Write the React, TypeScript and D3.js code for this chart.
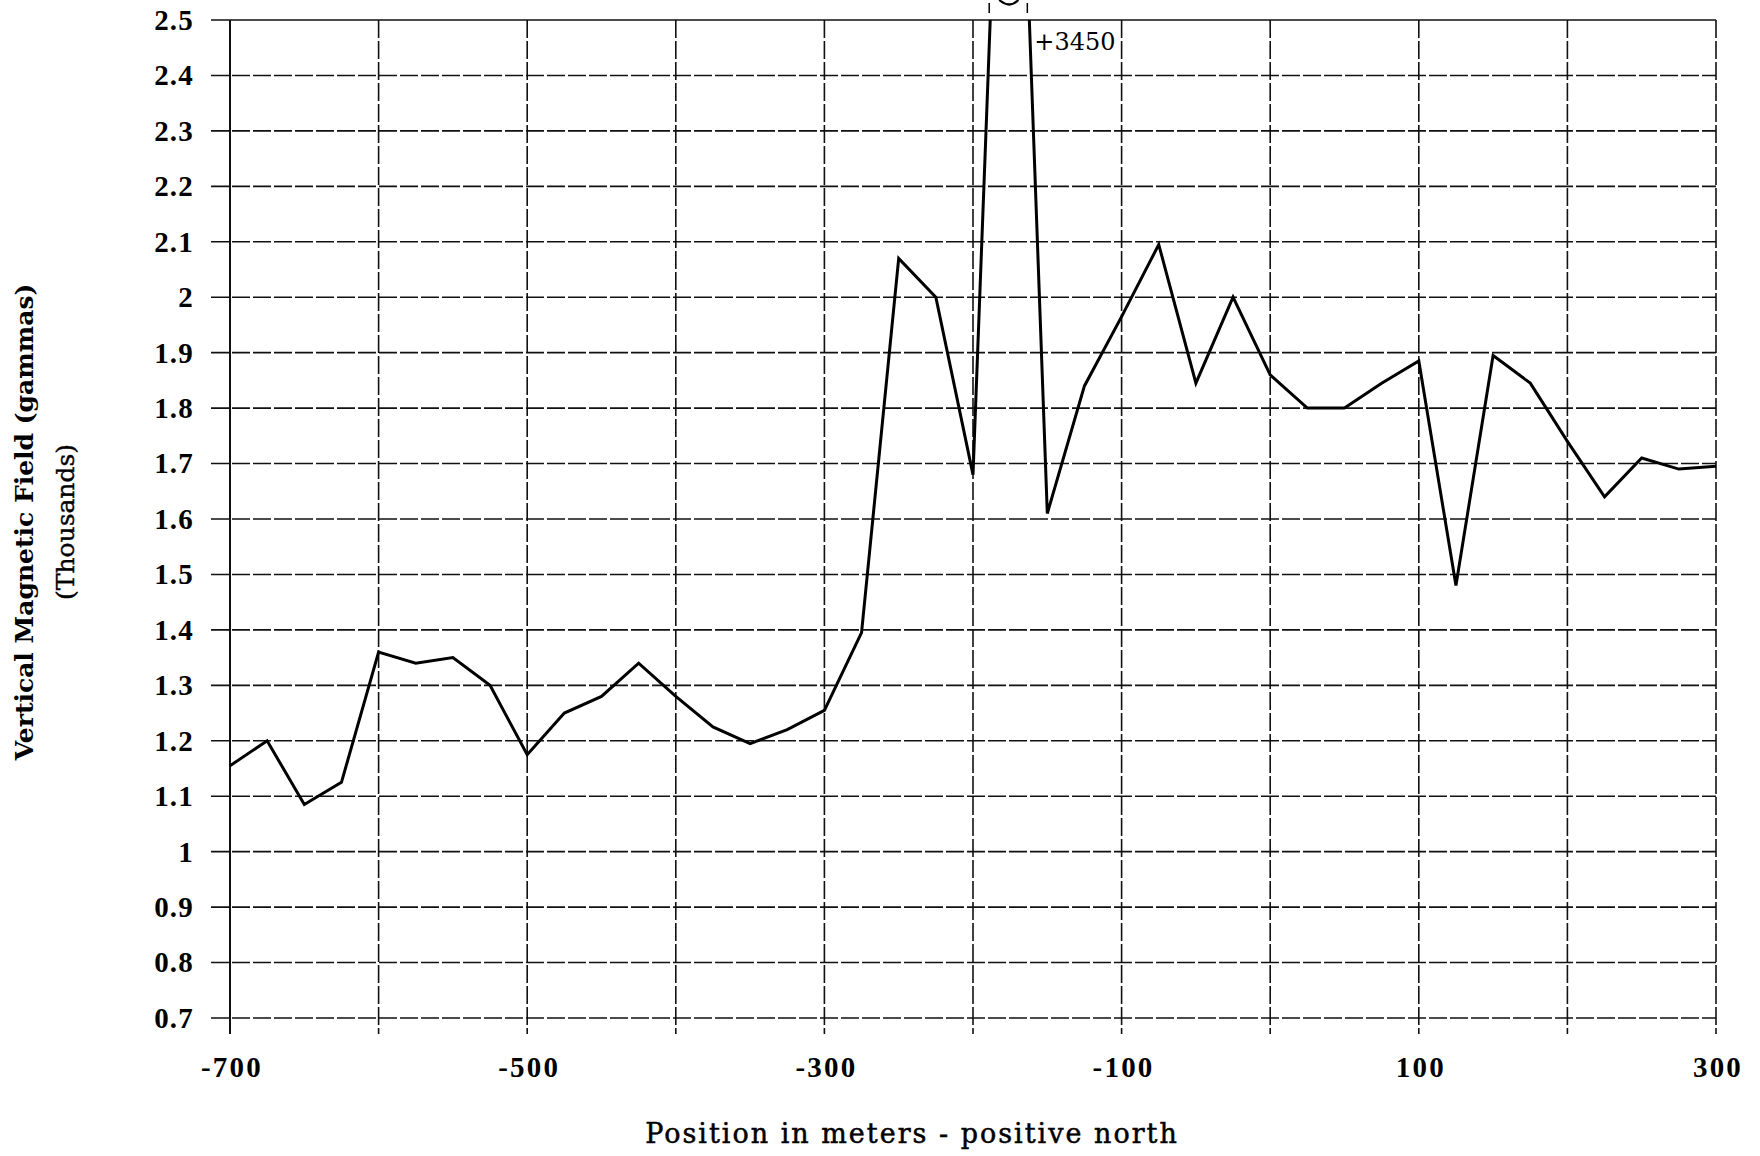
import React, { useRef, useEffect } from "react";
import * as d3 from "d3";

// position along the profile, metres (positive north)
const positions = [
  -700, -675, -650, -625, -600, -575, -550, -525, -500, -475, -450, -425, -400, -375,
  -350, -325, -300, -275, -250, -225, -200, -175, -150, -125, -100, -75, -50, -25,
  0, 25, 50, 75, 100, 125, 150, 175, 200, 225, 250, 275, 300,
];
// vertical magnetic field, thousands of gammas
const fieldValues = [
  1.155, 1.2, 1.085, 1.125, 1.36, 1.34, 1.35, 1.3, 1.175, 1.25, 1.28, 1.34, 1.28, 1.225,
  1.195, 1.22, 1.255, 1.395, 2.07, 2.0, 1.68, 3.45, 1.61, 1.84, 1.965, 2.095, 1.845, 2.0,
  1.86, 1.8, 1.8, 1.845, 1.885, 1.48, 1.895, 1.845, 1.74, 1.64, 1.71, 1.69, 1.695,
];
const yTicks = [0.7, 0.8, 0.9, 1.0, 1.1, 1.2, 1.3, 1.4, 1.5, 1.6, 1.7, 1.8, 1.9, 2.0, 2.1, 2.2, 2.3, 2.4, 2.5];
const xGrid = [-700, -600, -500, -400, -300, -200, -100, 0, 100, 200, 300];
const xTickLabels = [-700, -500, -300, -100, 100, 300];
const peakLabel = "+3450";

function App() {
  const svgRef = useRef(null);
  const width = 1760;
  const height = 1156;
  const marginTop = 20;
  const marginRight = 44;
  const marginBottom = 138;
  const marginLeft = 230;

  useEffect(() => {
    const svg = d3.select(svgRef.current);
    svg.selectAll("*").remove();

    const x = d3.scaleLinear([-700, 300], [marginLeft, width - marginRight]);
    const y = d3.scaleLinear([0.7, 2.5], [height - marginBottom, marginTop]);
    const tickFont = "'Liberation Serif', serif";
    const titleFont = "'DejaVu Serif', serif";

    svg.append("rect").attr("width", width).attr("height", height).attr("fill", "white");

    // horizontal grid lines (with outward tick stubs)
    svg.append("g")
      .selectAll("line")
      .data(yTicks)
      .join("line")
      .attr("x1", marginLeft - 19)
      .attr("x2", width - marginRight)
      .attr("y1", d => y(d))
      .attr("y2", d => y(d))
      .attr("stroke", "#111")
      .attr("stroke-width", 1.6)
      .attr("stroke-dasharray", d => (d === 2.5 ? null : "18,3"));

    // vertical grid lines
    svg.append("g")
      .selectAll("line")
      .data(xGrid)
      .join("line")
      .attr("x1", d => x(d))
      .attr("x2", d => x(d))
      .attr("y1", marginTop)
      .attr("y2", height - marginBottom + 16)
      .attr("stroke", "#111")
      .attr("stroke-width", d => (d === -700 ? 2 : 1.6))
      .attr("stroke-dasharray", d => (d === -700 ? null : "18,3"));

    // y tick labels
    svg.append("g")
      .selectAll("text")
      .data(yTicks)
      .join("text")
      .attr("x", marginLeft - 36)
      .attr("y", d => y(d))
      .attr("dy", "0.34em")
      .attr("text-anchor", "end")
      .attr("font-family", tickFont)
      .attr("font-weight", "bold")
      .attr("font-size", 29)
      .attr("letter-spacing", 1.2)
      .text(d => String(+d.toFixed(1)));

    // x tick labels
    svg.append("g")
      .selectAll("text")
      .data(xTickLabels)
      .join("text")
      .attr("x", d => x(d) + 2)
      .attr("y", height - marginBottom + 59)
      .attr("text-anchor", "middle")
      .attr("font-family", tickFont)
      .attr("font-weight", "bold")
      .attr("font-size", 29)
      .attr("letter-spacing", 2.2)
      .text(d => String(d));

    // data line, clipped at top of the plot
    svg.append("clipPath")
      .attr("id", "plotClip")
      .append("rect")
      .attr("x", marginLeft)
      .attr("y", marginTop)
      .attr("width", width - marginLeft - marginRight + 2)
      .attr("height", height - marginTop - marginBottom);

    const line = d3.line<number>()
      .x((d, i) => x(positions[i]))
      .y(d => y(d));

    svg.append("path")
      .datum(fieldValues)
      .attr("clip-path", "url(#plotClip)")
      .attr("fill", "none")
      .attr("stroke", "#000")
      .attr("stroke-width", 3)
      .attr("stroke-linejoin", "miter")
      .attr("d", line);

    // off-scale peak: broken marks above the frame and label
    const iPeak = fieldValues.indexOf(d3.max(fieldValues));
    const up = x(positions[iPeak - 1]) + (x(positions[iPeak]) - x(positions[iPeak - 1])) *
      ((2.5 - fieldValues[iPeak - 1]) / (fieldValues[iPeak] - fieldValues[iPeak - 1]));
    const down = x(positions[iPeak]) + (x(positions[iPeak + 1]) - x(positions[iPeak])) *
      ((fieldValues[iPeak] - 2.5) / (fieldValues[iPeak] - fieldValues[iPeak + 1]));
    const brk = svg.append("g").attr("stroke", "#000").attr("stroke-width", 1.5).attr("fill", "none");
    [up - 1, down - 2].forEach(px => {
      brk.append("line").attr("x1", px).attr("x2", px).attr("y1", 3).attr("y2", 13);
    });
    brk.append("path")
      .attr("stroke-width", 2.2)
      .attr("d", `M${up + 9},0 Q${(up + down) / 2},9 ${down - 11},0`);

    svg.append("text")
      .attr("x", down + 5)
      .attr("y", y(2.5) + 30)
      .attr("font-family", titleFont)
      .attr("font-size", 24)
      .text(peakLabel);

    // axis titles
    svg.append("text")
      .attr("x", 912)
      .attr("y", height - 13)
      .attr("text-anchor", "middle")
      .attr("font-family", titleFont)
      .attr("font-size", 27)
      .attr("letter-spacing", 2)
      .attr("stroke", "#000")
      .attr("stroke-width", 0.5)
      .text("Position in meters - positive north");

    const yTitle = svg.append("g")
      .attr("font-family", titleFont)
      .attr("font-size", 25)
      .attr("font-weight", "bold")
      .attr("text-anchor", "middle");
    yTitle.append("text")
      .attr("transform", "translate(33,522) rotate(-90)")
      .text("Vertical Magnetic Field (gammas)");
    yTitle.append("text")
      .attr("transform", "translate(74,522) rotate(-90)")
      .attr("font-weight", "normal")
      .attr("stroke", "#000")
      .attr("stroke-width", 0.4)
      .text("(Thousands)");
  }, []);

  return (
    <div>
      <svg
        ref={svgRef}
        width={width}
        height={height}
        style={{ position: "absolute", left: 0, top: 0 }}
      ></svg>
    </div>
  );
}

export default App;
